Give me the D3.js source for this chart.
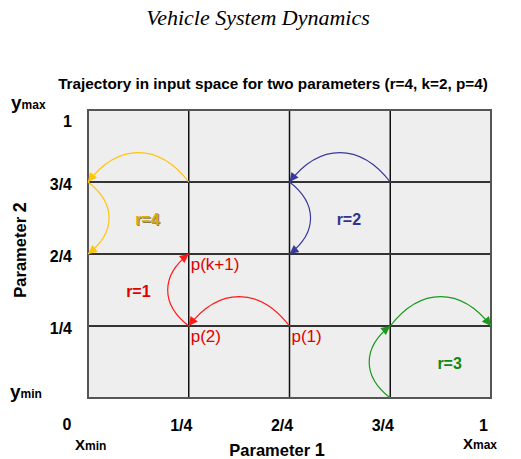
<!DOCTYPE html>
<html>
<head>
<meta charset="utf-8">
<script src="https://cdn.jsdelivr.net/npm/d3@7"></script>
<style>
  body { margin: 0; background: #fff; }
  text { font-family: "Liberation Sans", Arial, sans-serif; }
</style>
</head>
<body>
<div id="chart"></div>
<script>
// tick values and labels for both parameters
var tickValues = [0.25, 0.5, 0.75, 1];
var tickLabels = ["1/4", "2/4", "3/4", "1"];

// trajectories in input space, one per repetition r
var trajNames = ["r=1", "r=2", "r=3", "r=4"];
var trajP1 = [[0.5, 0.25, 0.25], [0.75, 0.5, 0.5], [0.75, 0.75, 1], [0.25, 0, 0]];
var trajP2 = [[0.25, 0.25, 0.5], [0.75, 0.75, 0.5], [0, 0.25, 0.25], [0.75, 0.75, 0.5]];
var trajColors = ["#ff1a1a", "#3a3a9a", "#1a9a1a", "#ffc40d"];

// point labels along r=1
var pointLabels = ["p(1)", "p(2)", "p(k+1)"];

var svgWidth = 521;
var svgHeight = 459;
var margin = { top: 110, right: 30, bottom: 61, left: 88 };
var width = svgWidth - margin.left - margin.right;
var height = svgHeight - margin.top - margin.bottom;

var svg = d3.select("#chart")
  .append("svg")
  .attr("width", svgWidth)
  .attr("height", svgHeight);

var defs = svg.append("defs");
trajColors.forEach(function (c, i) {
  defs.append("marker")
    .attr("id", "arrow" + i)
    .attr("viewBox", "0 0 10 10")
    .attr("refX", 10)
    .attr("refY", 5)
    .attr("markerWidth", 10)
    .attr("markerHeight", 9)
    .attr("markerUnits", "userSpaceOnUse")
    .attr("orient", "auto")
    .append("path")
    .attr("d", "M0,0 L10,5 L0,10 Z")
    .attr("fill", c);
});

// journal header
svg.append("text")
  .attr("x", 258)
  .attr("y", 25)
  .attr("text-anchor", "middle")
  .style("font-family", "'Liberation Serif', serif")
  .style("font-style", "italic")
  .style("font-size", "22px")
  .text("Vehicle System Dynamics");

svg.append("text")
  .attr("x", 273)
  .attr("y", 89)
  .attr("text-anchor", "middle")
  .style("font-weight", "bold")
  .style("font-size", "15.3px")
  .text("Trajectory in input space for two parameters (r=4, k=2, p=4)");

var chartGroup = svg.append("g")
  .attr("transform", `translate(${margin.left}, ${margin.top})`);

var xScale = d3.scaleLinear().domain([0, 1]).range([0, width]);
var yScale = d3.scaleLinear().domain([0, 1]).range([height, 0]);

// background
chartGroup.append("rect")
  .attr("width", width)
  .attr("height", height)
  .attr("fill", "#eeeeee");

// inner grid
chartGroup.selectAll(".vgrid")
  .data(tickValues.slice(0, 3))
  .enter()
  .append("line")
  .attr("x1", d => xScale(d))
  .attr("x2", d => xScale(d))
  .attr("y1", 0)
  .attr("y2", height)
  .attr("stroke", "#111")
  .attr("stroke-width", 1.5);

chartGroup.selectAll(".hgrid")
  .data(tickValues.slice(0, 3))
  .enter()
  .append("line")
  .attr("x1", 0)
  .attr("x2", width)
  .attr("y1", d => yScale(d))
  .attr("y2", d => yScale(d))
  .attr("stroke", "#333")
  .attr("stroke-width", 2);

// outer frame
chartGroup.append("rect")
  .attr("width", width)
  .attr("height", height)
  .attr("fill", "none")
  .attr("stroke", "#555")
  .attr("stroke-width", 2);

// axes, labels only
var bottomAxis = d3.axisBottom(xScale)
  .tickValues(tickValues)
  .tickFormat((d, i) => tickLabels[i])
  .tickSize(0);
var leftAxis = d3.axisLeft(yScale)
  .tickValues(tickValues)
  .tickFormat((d, i) => tickLabels[i])
  .tickSize(0);

var xAxisG = chartGroup.append("g")
  .attr("transform", `translate(0, ${height})`)
  .call(bottomAxis);
xAxisG.select(".domain").remove();
xAxisG.selectAll("text")
  .attr("dx", -8)
  .attr("y", 22)
  .attr("fill", "#000")
  .style("font-family", "'Liberation Sans', Arial, sans-serif")
  .style("font-weight", "bold")
  .style("font-size", "16px");

var yAxisG = chartGroup.append("g").call(leftAxis);
yAxisG.select(".domain").remove();
yAxisG.selectAll("text")
  .attr("x", -16)
  .attr("dy", (d) => d === 1 ? "1.0em" : "0.45em")
  .attr("fill", "#000")
  .style("font-family", "'Liberation Sans', Arial, sans-serif")
  .style("font-weight", "bold")
  .style("font-size", "16px");

// shared origin label
chartGroup.append("text")
  .attr("x", xScale(0) - 21)
  .attr("y", yScale(0) + 32)
  .attr("text-anchor", "middle")
  .style("font-weight", "bold")
  .style("font-size", "16px")
  .text("0");

// axis titles
var p1 = svg.append("text")
  .attr("x", 277)
  .attr("y", 456)
  .attr("text-anchor", "middle")
  .style("font-weight", "bold")
  .style("font-size", "16.5px");
p1.append("tspan").text("Parameter ");
p1.append("tspan").style("font-size", "18px").text("1");

var p2 = svg.append("text")
  .attr("transform", "translate(26, 250) rotate(-90)")
  .attr("text-anchor", "middle")
  .style("font-weight", "bold")
  .style("font-size", "16.5px");
p2.append("tspan").text("Parameter ");
p2.append("tspan").style("font-size", "18px").text("2");

// min / max corner labels
function cornerLabel(x, y, main, sub, size) {
  var t = svg.append("text")
    .attr("x", x)
    .attr("y", y)
    .style("font-weight", "bold");
  t.append("tspan").style("font-size", size + "px").text(main);
  t.append("tspan").style("font-size", "12px").text(sub);
}
cornerLabel(11, 109, "y", "max", 19);
cornerLabel(10, 398, "y", "min", 19);
cornerLabel(75, 450, "X", "min", 15);
cornerLabel(463, 449, "X", "max", 15);

// which side each leg of a trajectory bows out to (screen px)
var bows = [[[0, -1], [-1, 0]], [[0, -1], [1, 0]], [[-1, 0], [0, -1]], [[0, -1], [1, 0]]];

function legPath(x0, y0, x1, y1, bow) {
  var dx = x1 - x0, dy = y1 - y0;
  var off = 0.39 * Math.hypot(dx, dy);
  var c1x = x0 + dx * 0.3 + bow[0] * off, c1y = y0 + dy * 0.3 + bow[1] * off;
  var c2x = x1 - dx * 0.3 + bow[0] * off, c2y = y1 - dy * 0.3 + bow[1] * off;
  return `M${x0},${y0} C${c1x},${c1y} ${c2x},${c2y} ${x1},${y1}`;
}

trajNames.forEach(function (name, r) {
  for (var j = 0; j < trajP1[r].length - 1; j++) {
    chartGroup.append("path")
      .attr("d", legPath(
        xScale(trajP1[r][j]), yScale(trajP2[r][j]),
        xScale(trajP1[r][j + 1]), yScale(trajP2[r][j + 1]),
        bows[r][j]))
      .attr("fill", "none")
      .attr("stroke", trajColors[r])
      .attr("stroke-width", 1.2)
      .attr("marker-end", `url(#arrow${r})`);
  }
});

// trajectory names, placed in the cell beside each path
var namePos = [[0.125, 0.375], [0.625, 0.625], [0.875, 0.125], [0.125, 0.625]];
var nameColors = ["#e00000", "#33338f", "#118811", "#d8ac10"];

// r=4 carries a dark drop shadow in the original
chartGroup.append("text")
  .attr("x", xScale(namePos[3][0]) + 10)
  .attr("y", yScale(namePos[3][1]) + 2)
  .attr("dy", "0.35em")
  .attr("text-anchor", "middle")
  .attr("fill", "#8a7a50")
  .style("font-weight", "bold")
  .style("font-size", "16px")
  .text(trajNames[3]);

chartGroup.selectAll(".rname")
  .data(trajNames)
  .enter()
  .append("text")
  .attr("x", (d, i) => xScale(namePos[i][0]) + (i === 0 ? 0 : 9))
  .attr("y", (d, i) => yScale(namePos[i][1]) + 1)
  .attr("dy", "0.35em")
  .attr("text-anchor", "middle")
  .attr("fill", (d, i) => nameColors[i])
  .style("font-weight", "bold")
  .style("font-size", "16px")
  .text(d => d);

// point labels below/right of r=1 points
chartGroup.selectAll(".plabel")
  .data(pointLabels)
  .enter()
  .append("text")
  .attr("x", (d, i) => xScale(trajP1[0][i]) + 2)
  .attr("y", (d, i) => yScale(trajP2[0][i]) + 10)
  .attr("dy", "0.35em")
  .attr("fill", "#e00000")
  .style("font-size", "17px")
  .text(d => d);
</script>
</body>
</html>
